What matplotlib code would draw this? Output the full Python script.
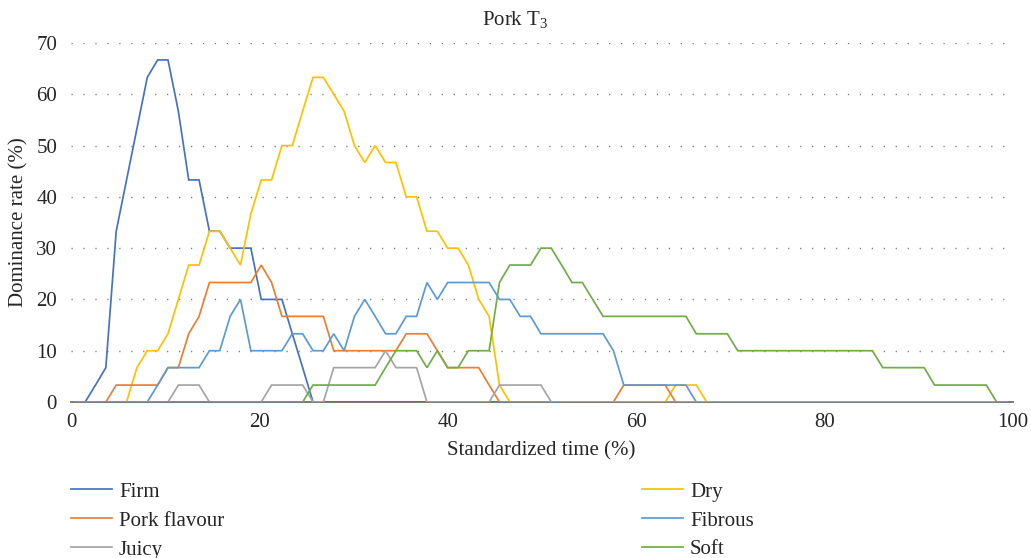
import numpy as np
import matplotlib
matplotlib.use("Agg")
import matplotlib.pyplot as plt

# standardized time grid (%), 91 points
time = np.linspace(0.4, 99.4, 91)

firm = [
    0, 0, 3.3, 6.7, 33.3, 43.3, 53.3, 63.3, 66.7, 66.7,
    56.7, 43.3, 43.3, 33.3, 33.3, 30, 30, 30, 20, 20,
    20, 13.3, 6.7, 0, 0, 0, 0, 0, 0, 0,
    0, 0, 0, 0, 0, 0, 0, 0, 0, 0,
    0, 0, 0, 0, 0, 0, 0, 0, 0, 0,
    0, 0, 0, 0, 0, 0, 0, 0, 0, 0,
    0, 0, 0, 0, 0, 0, 0, 0, 0, 0,
    0, 0, 0, 0, 0, 0, 0, 0, 0, 0,
    0, 0, 0, 0, 0, 0, 0, 0, 0, 0,
    0,
]
dry = [
    0, 0, 0, 0, 0, 0, 6.7, 10, 10, 13.3,
    20, 26.7, 26.7, 33.3, 33.3, 30, 26.7, 36.7, 43.3, 43.3,
    50, 50, 56.7, 63.3, 63.3, 60, 56.7, 50, 46.7, 50,
    46.7, 46.7, 40, 40, 33.3, 33.3, 30, 30, 26.7, 20,
    16.7, 3.3, 0, 0, 0, 0, 0, 0, 0, 0,
    0, 0, 0, 0, 0, 0, 0, 0, 3.3, 3.3,
    3.3, 0, 0, 0, 0, 0, 0, 0, 0, 0,
    0, 0, 0, 0, 0, 0, 0, 0, 0, 0,
    0, 0, 0, 0, 0, 0, 0, 0, 0, 0,
    0,
]
pork_flavour = [
    0, 0, 0, 0, 3.3, 3.3, 3.3, 3.3, 3.3, 6.7,
    6.7, 13.3, 16.7, 23.3, 23.3, 23.3, 23.3, 23.3, 26.7, 23.3,
    16.7, 16.7, 16.7, 16.7, 16.7, 10, 10, 10, 10, 10,
    10, 10, 13.3, 13.3, 13.3, 10, 6.7, 6.7, 6.7, 6.7,
    3.3, 0, 0, 0, 0, 0, 0, 0, 0, 0,
    0, 0, 0, 3.3, 3.3, 3.3, 3.3, 3.3, 0, 0,
    0, 0, 0, 0, 0, 0, 0, 0, 0, 0,
    0, 0, 0, 0, 0, 0, 0, 0, 0, 0,
    0, 0, 0, 0, 0, 0, 0, 0, 0, 0,
    0,
]
fibrous = [
    0, 0, 0, 0, 0, 0, 0, 0, 3.3, 6.7,
    6.7, 6.7, 6.7, 10, 10, 16.7, 20, 10, 10, 10,
    10, 13.3, 13.3, 10, 10, 13.3, 10, 16.7, 20, 16.7,
    13.3, 13.3, 16.7, 16.7, 23.3, 20, 23.3, 23.3, 23.3, 23.3,
    23.3, 20, 20, 16.7, 16.7, 13.3, 13.3, 13.3, 13.3, 13.3,
    13.3, 13.3, 10, 3.3, 3.3, 3.3, 3.3, 3.3, 3.3, 3.3,
    0, 0, 0, 0, 0, 0, 0, 0, 0, 0,
    0, 0, 0, 0, 0, 0, 0, 0, 0, 0,
    0, 0, 0, 0, 0, 0, 0, 0, 0, 0,
    0,
]
juicy = [
    0, 0, 0, 0, 0, 0, 0, 0, 0, 0,
    3.3, 3.3, 3.3, 0, 0, 0, 0, 0, 0, 3.3,
    3.3, 3.3, 3.3, 0, 0, 6.7, 6.7, 6.7, 6.7, 6.7,
    10, 6.7, 6.7, 6.7, 0, 0, 0, 0, 0, 0,
    0, 3.3, 3.3, 3.3, 3.3, 3.3, 0, 0, 0, 0,
    0, 0, 0, 0, 0, 0, 0, 0, 0, 0,
    0, 0, 0, 0, 0, 0, 0, 0, 0, 0,
    0, 0, 0, 0, 0, 0, 0, 0, 0, 0,
    0, 0, 0, 0, 0, 0, 0, 0, 0, 0,
    0,
]
soft = [
    0, 0, 0, 0, 0, 0, 0, 0, 0, 0,
    0, 0, 0, 0, 0, 0, 0, 0, 0, 0,
    0, 0, 0, 3.3, 3.3, 3.3, 3.3, 3.3, 3.3, 3.3,
    6.7, 10, 10, 10, 6.7, 10, 6.7, 6.7, 10, 10,
    10, 23.3, 26.7, 26.7, 26.7, 30, 30, 26.7, 23.3, 23.3,
    20, 16.7, 16.7, 16.7, 16.7, 16.7, 16.7, 16.7, 16.7, 16.7,
    13.3, 13.3, 13.3, 13.3, 10, 10, 10, 10, 10, 10,
    10, 10, 10, 10, 10, 10, 10, 10, 6.7, 6.7,
    6.7, 6.7, 6.7, 3.3, 3.3, 3.3, 3.3, 3.3, 3.3, 0,
    0,
]

# drawing order (Excel series order)
series = [
    ("Firm", firm, "#4472C4"),
    ("Dry", dry, "#FFC000"),
    ("Pork flavour", pork_flavour, "#ED7D31"),
    ("Fibrous", fibrous, "#5B9BD5"),
    ("Juicy", juicy, "#A5A5A5"),
    ("Soft", soft, "#70AD47"),
]

plt.rcParams["font.family"] = ["Liberation Serif", "DejaVu Serif"]
plt.rcParams["mathtext.default"] = "regular"
FS = 15
TXT = "#262626"

fig = plt.figure(figsize=(10.31, 5.58), dpi=100)
ax = fig.add_axes([71 / 1031, 1 - 402 / 558, (1012.7 - 71) / 1031, (402 - 43) / 558])

lines = {}
for name, vals, col in series:
    ln, = ax.plot(time, vals, color=col, lw=1.25, label=name, solid_joinstyle="miter")
    lines[name] = ln

ax.set_xlim(0, 100)
ax.set_ylim(0, 70)
ax.set_xticks(np.arange(0, 101, 20))
ax.set_yticks(np.arange(0, 71, 10))
for y in range(10, 71, 10):
    ax.axhline(y, color="#7a7a7a", lw=1.0, ls=(0, (0.9, 7.7)), zorder=0)

for s in ["top", "right", "left"]:
    ax.spines[s].set_visible(False)
ax.spines["bottom"].set_color("#6e6e6e")
ax.spines["bottom"].set_linewidth(1.3)
ax.spines["bottom"].set_zorder(0)
ax.tick_params(length=0, labelsize=FS, colors=TXT)
ax.tick_params(axis="x", pad=8)
ax.tick_params(axis="y", pad=10)

fig.text(0.5, 1 - 20 / 558, "Pork T$_{3}$", ha="center", va="center", fontsize=FS, color=TXT)
fig.text(541 / 1031, 1 - 451 / 558, "Standardized time (%)", ha="center", va="center",
         fontsize=FS, color=TXT)
fig.text(19 / 1031, 1 - 222 / 558, "Dominance rate (%)", ha="center", va="center",
         rotation=90, fontsize=FS, color=TXT)

leg_kw = dict(loc="upper left", frameon=False, fontsize=FS, borderpad=0, borderaxespad=0,
              handlelength=1.95, handletextpad=0.35, labelspacing=0.45, labelcolor=TXT)
left = ["Firm", "Pork flavour", "Juicy"]
right = ["Dry", "Fibrous", "Soft"]
fig.legend([lines[n] for n in left], left, bbox_to_anchor=(71 / 1031, 1 - 482 / 558), **leg_kw)
fig.legend([lines[n] for n in right], right, bbox_to_anchor=(642 / 1031, 1 - 482 / 558), **leg_kw)

fig.savefig("out.png", dpi=100)
